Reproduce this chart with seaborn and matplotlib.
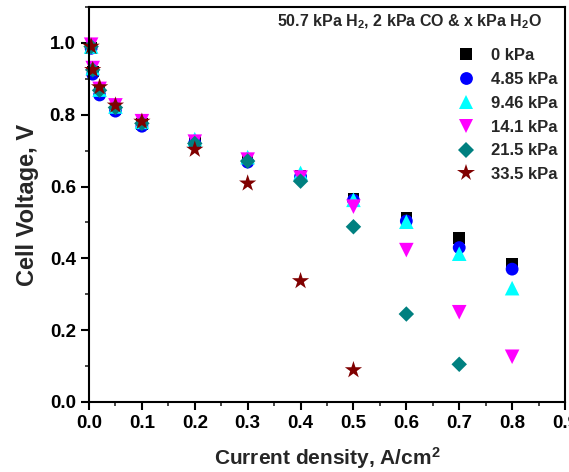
import matplotlib
matplotlib.use("Agg")
import matplotlib.pyplot as plt
import seaborn as sns
import pandas as pd
from matplotlib.ticker import MultipleLocator

# ---- data ----
current = [0.004, 0.007, 0.02, 0.05, 0.1, 0.2, 0.3, 0.4, 0.5, 0.6, 0.7, 0.8]
v_0 = [0.985, 0.92, 0.865, 0.815, 0.775, 0.725, 0.675, 0.63, 0.567, 0.512, 0.456, 0.386]
v_485 = [0.985, 0.913, 0.855, 0.81, 0.768, 0.722, 0.668, 0.628, 0.562, 0.504, 0.43, 0.37]
v_946 = [0.99, 0.93, 0.87, 0.823, 0.78, 0.732, 0.682, 0.638, 0.563, 0.502, 0.413, 0.317]
v_141 = [0.995, 0.93, 0.872, 0.826, 0.782, 0.725, 0.675, 0.625, 0.544, 0.423, 0.25, 0.126]
v_215 = [0.99, 0.925, 0.868, 0.82, 0.776, 0.72, 0.671, 0.615, 0.488, 0.245, 0.105]
v_335 = [0.99, 0.925, 0.877, 0.826, 0.781, 0.703, 0.609, 0.337, 0.089]
labels = ["0 kPa", "4.85 kPa", "9.46 kPa", "14.1 kPa", "21.5 kPa", "33.5 kPa"]
series = [v_0, v_485, v_946, v_141, v_215, v_335]
colors = ["#000000", "#0000FF", "#00FFFF", "#FF00FF", "#008080", "#800000"]
markers = ["s", "o", "^", "v", "D", "*"]
msizes = [70, 85, 110, 110, 62, 170]

rows = []
for lab, vals in zip(labels, series):
    for x, v in zip(current, vals):
        rows.append({"Current": x, "Voltage": v, "series": lab})
df = pd.DataFrame(rows)

sns.set_style("ticks")
plt.rcParams["font.family"] = ["Liberation Sans", "DejaVu Sans"]
plt.rcParams["font.weight"] = "bold"
plt.rcParams["mathtext.fontset"] = "custom"
plt.rcParams["mathtext.rm"] = "Liberation Sans:bold"
plt.rcParams["mathtext.bf"] = "Liberation Sans:bold"
plt.rcParams["mathtext.default"] = "bf"

fig = plt.figure(figsize=(5.69, 4.72), dpi=100)
ax = fig.add_axes([89/569, 1-402/472, (565-89)/569, (402-7)/472])

sns.scatterplot(data=df, x="Current", y="Voltage", hue="series", style="series",
                size="series", hue_order=labels, style_order=labels, size_order=labels,
                palette=dict(zip(labels, colors)), markers=dict(zip(labels, markers)),
                sizes=dict(zip(labels, msizes)), linewidth=0, ax=ax, clip_on=False)

ax.set_xlim(0, 0.9)
ax.set_ylim(0, 1.1)
ax.xaxis.set_major_locator(MultipleLocator(0.1))
ax.xaxis.set_minor_locator(MultipleLocator(0.05))
ax.yaxis.set_major_locator(MultipleLocator(0.2))
ax.yaxis.set_minor_locator(MultipleLocator(0.1))
ax.tick_params(which="major", direction="out", length=6, width=1.5, labelsize=13.5,
               top=False, right=False, color="black", labelcolor="black")
ax.tick_params(which="minor", direction="out", length=3, width=1.2, top=False, right=False)
for lbl in ax.get_xticklabels() + ax.get_yticklabels():
    lbl.set_fontweight("bold")
for sp in ax.spines.values():
    sp.set_linewidth(1.5)
    sp.set_color("black")

ax.set_xlabel("Current density, A/cm$^2$", fontsize=15, fontweight="bold", labelpad=9)
ax.set_ylabel("Cell Voltage, V", fontsize=17, fontweight="bold", labelpad=8)

ax.text(0.952, 0.962, "50.7 kPa H$_2$, 2 kPa CO & x kPa H$_2$O", transform=ax.transAxes,
        ha="right", va="center", fontsize=11.5, fontweight="bold")

handles, lbls = ax.get_legend_handles_labels()
leg = ax.legend(handles, lbls, loc="upper left", bbox_to_anchor=((458-89)/476, (402-48)/395),
                frameon=False, fontsize=12, handlelength=1.0, handletextpad=1.0,
                labelspacing=0.53, borderpad=0, borderaxespad=0, markerscale=1.0)
for t in leg.get_texts():
    t.set_fontweight("bold")

fig.savefig("out.png", dpi=100)
